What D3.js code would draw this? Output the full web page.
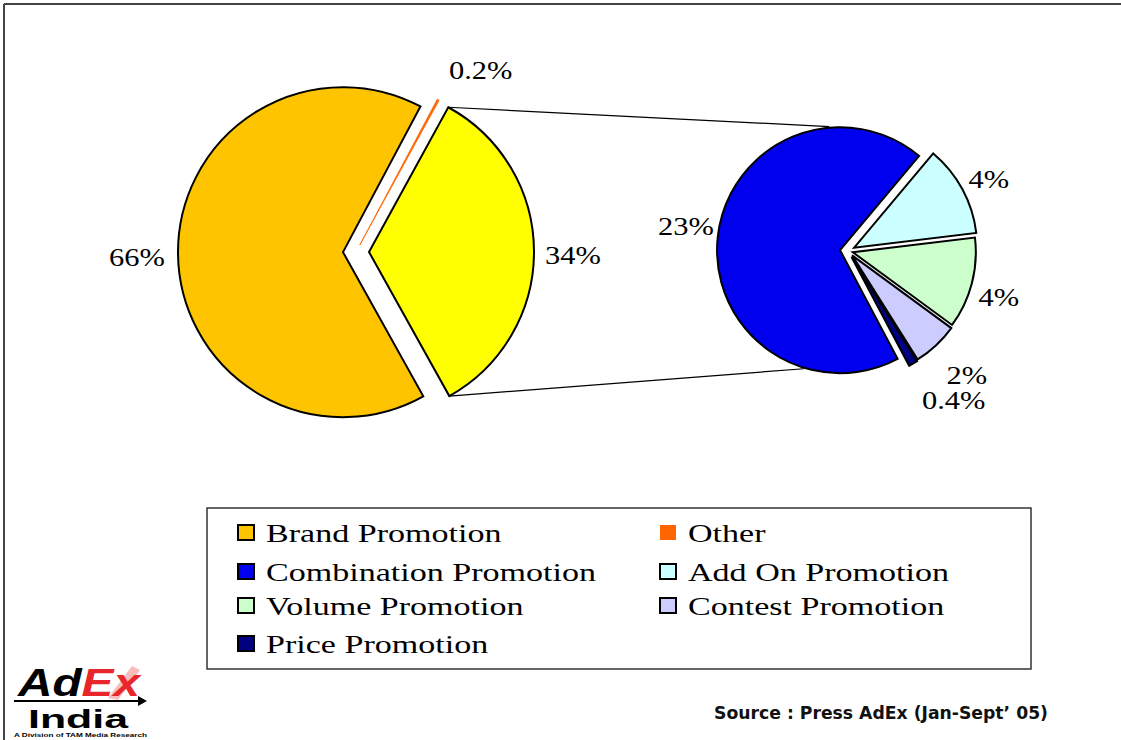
<!DOCTYPE html>
<html><head><meta charset="utf-8">
<script src="https://cdn.jsdelivr.net/npm/d3@7"></script>
<style>body{margin:0;background:#fff}svg{display:block}</style>
</head><body><svg id="c" width="1121" height="740"></svg>
<script>
// ---------- DATA ----------
const mainCategories = ["Other", "Combined Promotions", "Brand Promotion"];
const mainValues = [0.2, 34, 66];
const mainLabels = ["0.2%", "34%", "66%"];

const subCategories = ["Add On Promotion", "Volume Promotion", "Contest Promotion", "Price Promotion", "Combination Promotion"];
const subValues = [4, 4, 2, 0.4, 23];
const subLabels = ["4%", "4%", "2%", "0.4%", "23%"];

const legendItems = ["Brand Promotion", "Other", "Combination Promotion", "Add On Promotion",
                     "Volume Promotion", "Contest Promotion", "Price Promotion"];
const sourceText = "Source : Press AdEx (Jan-Sept\u2019 05)";

// ---------- STYLE ----------
const colors = {
  "Brand Promotion": "#FFC400",
  "Other": "#FF6600",
  "Combined Promotions": "#FFFF00",
  "Combination Promotion": "#0000EE",
  "Add On Promotion": "#CCFFFF",
  "Volume Promotion": "#CCFFCC",
  "Contest Promotion": "#CCCCFF",
  "Price Promotion": "#000080"
};
const noBorder = new Set(["Other"]);
const explodeMain = {"Other": 8, "Combined Promotions": 13, "Brand Promotion": 13};
const explodeSub = {"Add On Promotion": 7, "Volume Promotion": 5, "Contest Promotion": 6, "Price Promotion": 7, "Combination Promotion": 8};
const labelTweak = {
  "0.2%": [23, 7], "34%": [-2, 4], "66%": [0, 3],
  "sub0": [1, 4], "sub1": [-1, 6], "sub2": [11, 9], "sub3": [26, 12], "sub4": [-3, -8]
};
const SX = 1.22;       // horizontal stretch of the label text in the picture
const SXL = 1.31;      // horizontal stretch of the legend text
const serif = "'Liberation Serif','Times New Roman',serif";
const rad = d => d * Math.PI / 180;

const svg = d3.select("#c");

// frame
svg.append("line").attr("x1", 4).attr("y1", 4).attr("x2", 1121).attr("y2", 4)
  .attr("stroke", "#444").attr("stroke-width", 2);
svg.append("line").attr("x1", 4).attr("y1", 4).attr("x2", 4).attr("y2", 740)
  .attr("stroke", "#444").attr("stroke-width", 2);

function offset(d, e) {
  const m = (d.startAngle + d.endAngle) / 2;
  return [e * Math.sin(m), -e * Math.cos(m)];
}
function polar(cx, cy, r, a) { return [cx + r * Math.sin(a), cy - r * Math.cos(a)]; }

function addLabel(x, y, txt, size) {
  svg.append("text")
    .attr("transform", `translate(${x},${y}) scale(${SX},1)`)
    .attr("text-anchor", "middle").attr("dy", "0.35em")
    .style("font-family", serif).style("font-size", size + "px")
    .attr("fill", "#000").text(txt);
}

// ---------- MAIN PIE ----------
const mc = [356, 252], mr = 165;
const mainStart = 28;
const pieMain = d3.pie().sort(null).value(d => d.v)
  .startAngle(rad(mainStart)).endAngle(rad(mainStart + 360));
const mainArcs = pieMain(mainCategories.map((c, i) => ({c, v: mainValues[i], l: mainLabels[i]})));
const arcMain = d3.arc().innerRadius(0).outerRadius(mr);

const gMain = svg.append("g");
mainArcs.forEach(d => {
  const [ox, oy] = offset(d, explodeMain[d.data.c]);
  d.cx = mc[0] + ox; d.cy = mc[1] + oy;
  gMain.append("path")
    .attr("transform", `translate(${d.cx},${d.cy})`)
    .attr("d", arcMain(d))
    .attr("fill", colors[d.data.c])
    .attr("stroke", noBorder.has(d.data.c) ? colors[d.data.c] : "#000")
    .attr("stroke-width", noBorder.has(d.data.c) ? 0.8 : 2)
    .attr("stroke-linejoin", "miter");
});

// ---------- SUB PIE ----------
const sc = [848, 251], sr = 123;
const subStart = 40;
const pieSub = d3.pie().sort(null).value(d => d.v)
  .startAngle(rad(subStart)).endAngle(rad(subStart + 360));
const subArcs = pieSub(subCategories.map((c, i) => ({c, v: subValues[i], l: subLabels[i]})));
const arcSub = d3.arc().innerRadius(0).outerRadius(sr);

// connector lines
const comb = mainArcs[1];
const blue = subArcs[4];
const [bx, by] = offset(blue, explodeSub[blue.data.c]);
const bcx = sc[0] + bx, bcy = sc[1] + by;
const p1 = polar(comb.cx, comb.cy, mr, comb.startAngle);
const p2 = polar(comb.cx, comb.cy, mr, comb.endAngle);
const q1 = polar(bcx, bcy, sr + 1, rad(-5));
const q2 = polar(bcx, bcy, sr + 1, rad(197));
svg.append("line").attr("x1", p1[0]).attr("y1", p1[1]).attr("x2", q1[0]).attr("y2", q1[1])
  .attr("stroke", "#000").attr("stroke-width", 1.2);
svg.append("line").attr("x1", p2[0]).attr("y1", p2[1]).attr("x2", q2[0]).attr("y2", q2[1])
  .attr("stroke", "#000").attr("stroke-width", 1.2);

const gSub = svg.append("g");
subArcs.forEach(d => {
  const [ox, oy] = offset(d, explodeSub[d.data.c]);
  d.cx = sc[0] + ox; d.cy = sc[1] + oy;
  gSub.append("path")
    .attr("transform", `translate(${d.cx},${d.cy})`)
    .attr("d", arcSub(d))
    .attr("fill", colors[d.data.c])
    .attr("stroke", "#000").attr("stroke-width", 2)
    .attr("stroke-linejoin", "miter");
});

// labels
mainArcs.forEach(d => {
  const m = (d.startAngle + d.endAngle) / 2;
  const [x, y] = polar(d.cx, d.cy, mr + 41, m);
  const t = labelTweak[d.data.l] || [0, 0];
  addLabel(x + t[0], y + t[1], d.data.l, 25);
});
subArcs.forEach((d, i) => {
  const m = (d.startAngle + d.endAngle) / 2;
  const [x, y] = polar(d.cx, d.cy, sr + 29, m);
  const t = labelTweak["sub" + i] || [0, 0];
  addLabel(x + t[0], y + t[1], d.data.l, 25);
});

// ---------- LEGEND ----------
svg.append("rect").attr("x", 207).attr("y", 508).attr("width", 824).attr("height", 161)
  .attr("fill", "#fff").attr("stroke", "#333").attr("stroke-width", 1.5);
const colX = [237, 659];
const rowY = [533, 572, 606, 644];
legendItems.forEach((name, i) => {
  const x = colX[i % 2], y = rowY[Math.floor(i / 2)];
  svg.append("rect").attr("x", x + 1).attr("y", y - 8).attr("width", 16).attr("height", 15)
    .attr("fill", colors[name])
    .attr("stroke", noBorder.has(name) ? "none" : "#000").attr("stroke-width", 2);
  svg.append("text")
    .attr("transform", `translate(${x + 29},${y}) scale(${SXL},1)`)
    .attr("dy", "0.35em")
    .style("font-family", serif).style("font-size", "26px")
    .attr("fill", "#000").text(name);
});

// ---------- SOURCE ----------
svg.append("text").attr("x", 714).attr("y", 719)
  .attr("textLength", 334).attr("lengthAdjust", "spacingAndGlyphs")
  .style("font-family", "'DejaVu Sans','Liberation Sans',sans-serif")
  .style("font-weight", "bold").style("font-size", "17px")
  .attr("fill", "#111").text(sourceText);

// ---------- LOGO ----------
const logo = svg.append("g");
logo.append("path").attr("d", "M108,698 L132,666 L140,670 L118,700 Z").attr("fill", "#f4a0a0").attr("opacity", 0.7);
const at = logo.append("text").attr("x", 18).attr("y", 696)
  .attr("textLength", 122).attr("lengthAdjust", "spacingAndGlyphs")
  .style("font-family", "'Liberation Sans',Arial,sans-serif")
  .style("font-weight", "bold").style("font-style", "italic").style("font-size", "38px");
at.append("tspan").attr("fill", "#000").text("Ad");
at.append("tspan").attr("fill", "#e8262b").text("Ex");
logo.append("line").attr("x1", 14).attr("y1", 701).attr("x2", 140).attr("y2", 701)
  .attr("stroke", "#000").attr("stroke-width", 2);
logo.append("path").attr("d", "M138,696 L147,701 L138,706 Z").attr("fill", "#000");
logo.append("text").attr("x", 28).attr("y", 728)
  .attr("textLength", 100).attr("lengthAdjust", "spacingAndGlyphs")
  .style("font-family", "'Liberation Sans',Arial,sans-serif")
  .style("font-weight", "bold").style("font-size", "25px").attr("fill", "#000").text("India");
logo.append("text").attr("x", 14).attr("y", 737)
  .attr("textLength", 133).attr("lengthAdjust", "spacingAndGlyphs")
  .style("font-family", "'Liberation Sans',Arial,sans-serif")
  .style("font-weight", "bold").style("font-size", "6px").attr("fill", "#000")
  .text("A Division of TAM Media Research");
</script>
</body></html>
